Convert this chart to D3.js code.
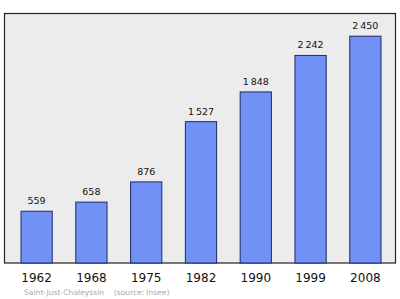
<!DOCTYPE html>
<html>
<head>
<meta charset="utf-8">
<script src="https://cdn.jsdelivr.net/npm/d3@7"></script>
<style>
  body { margin: 0; background: #fff; }
  svg { display: block; font-family: "DejaVu Sans", sans-serif; }
</style>
</head>
<body>
<div id="vis"></div>
<script>
var years = ['1962', '1968', '1975', '1982', '1990', '1999', '2008'];
var population = [559, 658, 876, 1527, 1848, 2242, 2450];
var valueLabels = ['559', '658', '876', '1\u202f527', '1\u202f848', '2\u202f242', '2\u202f450'];
var caption = 'Saint-Just-Chaleyssin\u00a0\u00a0\u00a0\u00a0(source:\u2009Insee)';

var width = 400;
var height = 299;
var frame = { left: 4.5, top: 13.5, right: 395.5, bottom: 263 };

var svg = d3.select('#vis')
  .append('svg')
  .attr('width', width)
  .attr('height', height);

// plot background
svg.append('rect')
  .attr('x', frame.left)
  .attr('y', frame.top)
  .attr('width', frame.right - frame.left)
  .attr('height', frame.bottom - frame.top)
  .attr('fill', '#ececec')
  .attr('stroke', '#222')
  .attr('stroke-width', 1.2);

var x = d3.scaleBand()
  .domain(years)
  .range([frame.left + 16.5, frame.right - 14.5])
  .paddingInner(0.43)
  .paddingOuter(0);

var y = d3.scaleLinear()
  .domain([0, 2450 * 1.1])
  .range([frame.bottom, frame.top]);

var bars = svg.selectAll('.bar')
  .data(years)
  .enter().append('rect')
  .attr('class', 'bar')
  .attr('x', function (d) { return x(d); })
  .attr('y', function (d, i) { return y(population[i]); })
  .attr('width', x.bandwidth())
  .attr('height', function (d, i) { return y(0) - y(population[i]); })
  .attr('fill', '#7191f7')
  .attr('stroke', '#1d2a66')
  .attr('stroke-width', 1);

svg.selectAll('.value')
  .data(years)
  .enter().append('text')
  .attr('class', 'value')
  .attr('x', function (d) { return x(d) + x.bandwidth() / 2; })
  .attr('y', function (d, i) { return y(population[i]) - 7; })
  .attr('text-anchor', 'middle')
  .attr('font-size', '9.5px')
  .attr('fill', '#111')
  .text(function (d, i) { return valueLabels[i]; });

// year axis, no line or ticks
var axis = svg.append('g')
  .attr('transform', 'translate(0,' + frame.bottom + ')')
  .call(d3.axisBottom(x).tickSize(0).tickPadding(10));
axis.select('.domain').remove();
axis.selectAll('text')
  .attr('font-family', '"DejaVu Sans", sans-serif')
  .attr('font-size', '12px')
  .attr('fill', '#111');

svg.append('text')
  .attr('x', 24)
  .attr('y', 295)
  .attr('font-size', '7.6px')
  .attr('fill', '#aaa')
  .text(caption);
</script>
</body>
</html>
